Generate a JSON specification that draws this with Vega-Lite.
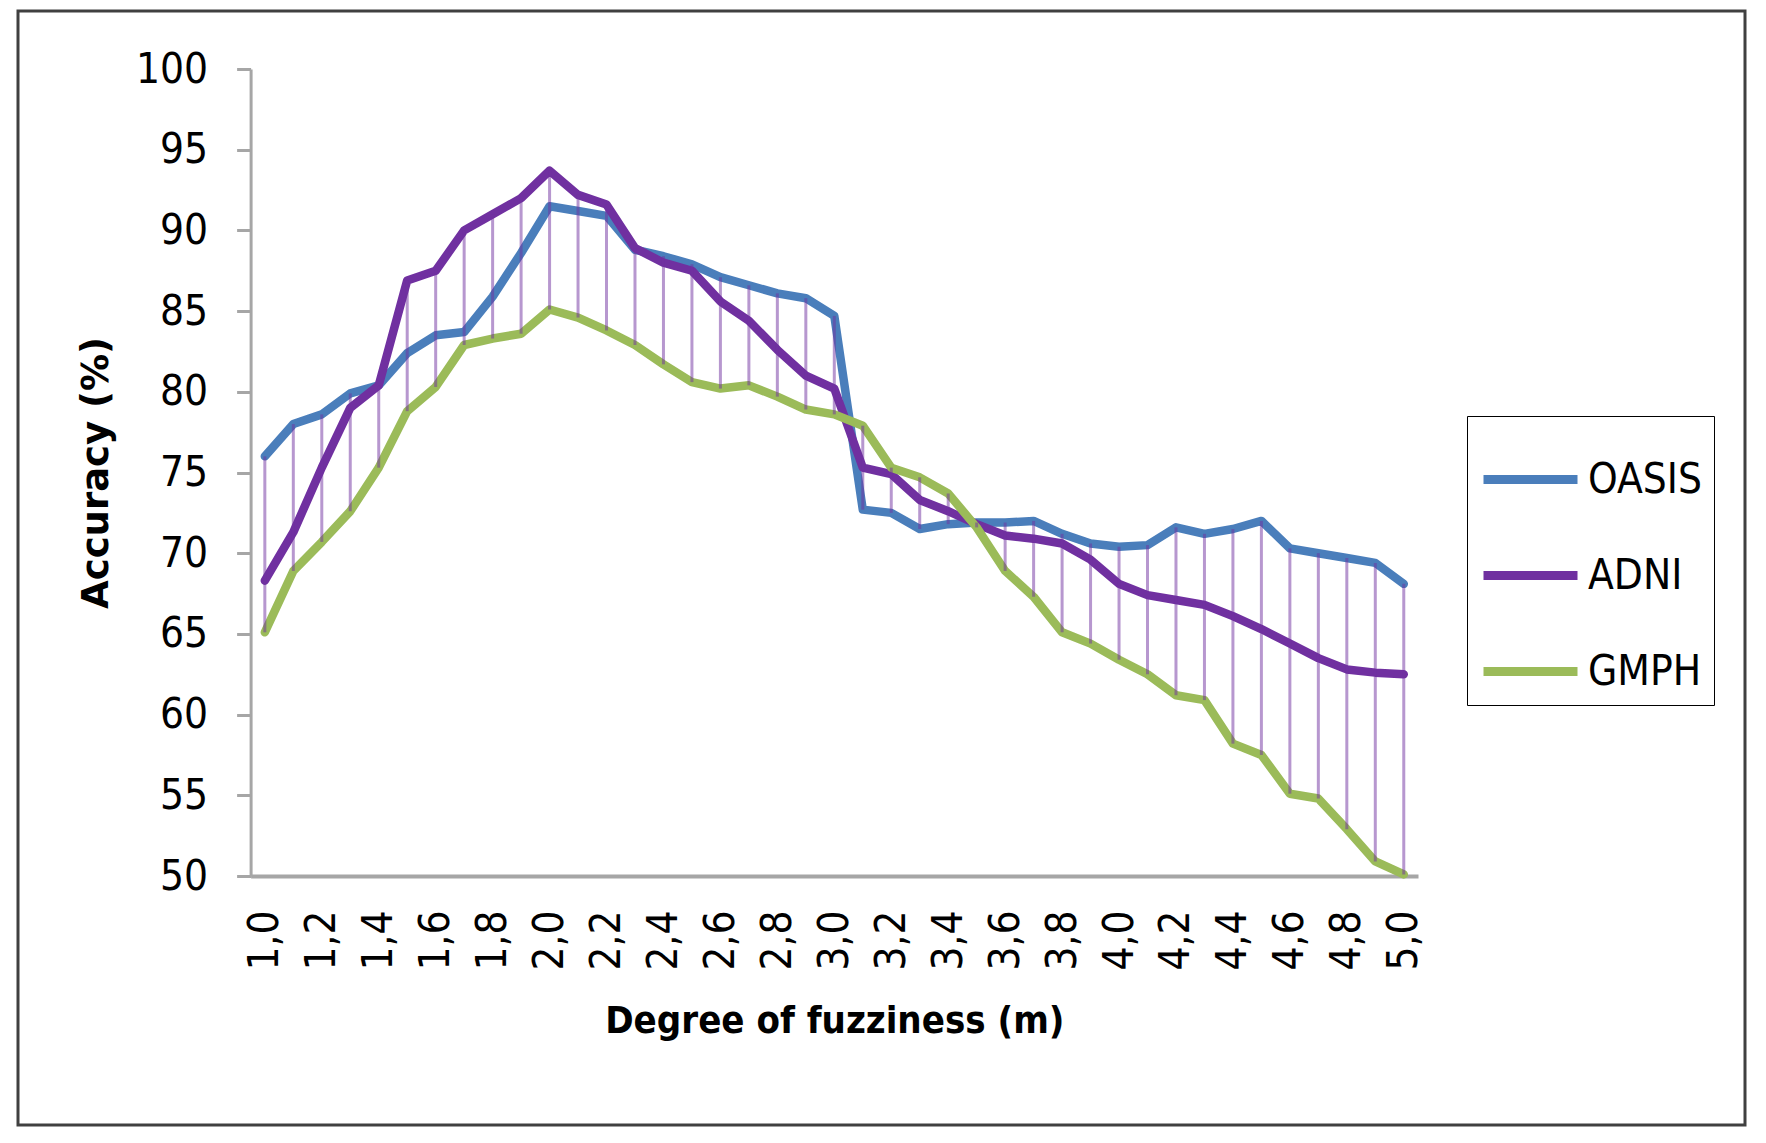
{
  "$schema": "https://vega.github.io/schema/vega-lite/v6.json",
  "width": 1727,
  "height": 1114,
  "autosize": {"type": "none"},
  "padding": {"left": 18, "top": 11, "right": 21, "bottom": 18},
  "background": "white",
  "config": {
    "view": {"stroke": "#404040", "strokeWidth": 3},
    "font": "DejaVu Sans Condensed, Roboto Condensed, Roboto"
  },
  "data": {
    "values": [
      {"m": 1.0, "OASIS": 76.0, "ADNI": 68.3, "GMPH": 65.1},
      {"m": 1.1, "OASIS": 78.0, "ADNI": 71.3, "GMPH": 68.9},
      {"m": 1.2, "OASIS": 78.6, "ADNI": 75.3, "GMPH": 70.7},
      {"m": 1.3, "OASIS": 79.9, "ADNI": 79.0, "GMPH": 72.6},
      {"m": 1.4, "OASIS": 80.4, "ADNI": 80.4, "GMPH": 75.3},
      {"m": 1.5, "OASIS": 82.4, "ADNI": 86.9, "GMPH": 78.8},
      {"m": 1.6, "OASIS": 83.5, "ADNI": 87.5, "GMPH": 80.3},
      {"m": 1.7, "OASIS": 83.7, "ADNI": 90.0, "GMPH": 82.9},
      {"m": 1.8, "OASIS": 85.9, "ADNI": 91.0, "GMPH": 83.3},
      {"m": 1.9, "OASIS": 88.6, "ADNI": 92.0, "GMPH": 83.6},
      {"m": 2.0, "OASIS": 91.5, "ADNI": 93.7, "GMPH": 85.1},
      {"m": 2.1, "OASIS": 91.2, "ADNI": 92.2, "GMPH": 84.6},
      {"m": 2.2, "OASIS": 90.9, "ADNI": 91.6, "GMPH": 83.8},
      {"m": 2.3, "OASIS": 88.8, "ADNI": 88.9, "GMPH": 82.9},
      {"m": 2.4, "OASIS": 88.4, "ADNI": 88.0, "GMPH": 81.7},
      {"m": 2.5, "OASIS": 87.9, "ADNI": 87.5, "GMPH": 80.6},
      {"m": 2.6, "OASIS": 87.1, "ADNI": 85.6, "GMPH": 80.2},
      {"m": 2.7, "OASIS": 86.6, "ADNI": 84.4, "GMPH": 80.4},
      {"m": 2.8, "OASIS": 86.1, "ADNI": 82.6, "GMPH": 79.7},
      {"m": 2.9, "OASIS": 85.8, "ADNI": 81.0, "GMPH": 78.9},
      {"m": 3.0, "OASIS": 84.7, "ADNI": 80.2, "GMPH": 78.6},
      {"m": 3.1, "OASIS": 72.7, "ADNI": 75.3, "GMPH": 77.9},
      {"m": 3.2, "OASIS": 72.5, "ADNI": 74.9, "GMPH": 75.3},
      {"m": 3.3, "OASIS": 71.5, "ADNI": 73.3, "GMPH": 74.7},
      {"m": 3.4, "OASIS": 71.8, "ADNI": 72.6, "GMPH": 73.7},
      {"m": 3.5, "OASIS": 71.9, "ADNI": 71.8, "GMPH": 71.6},
      {"m": 3.6, "OASIS": 71.9, "ADNI": 71.1, "GMPH": 68.9},
      {"m": 3.7, "OASIS": 72.0, "ADNI": 70.9, "GMPH": 67.3},
      {"m": 3.8, "OASIS": 71.2, "ADNI": 70.6, "GMPH": 65.1},
      {"m": 3.9, "OASIS": 70.6, "ADNI": 69.6, "GMPH": 64.4},
      {"m": 4.0, "OASIS": 70.4, "ADNI": 68.1, "GMPH": 63.4},
      {"m": 4.1, "OASIS": 70.5, "ADNI": 67.4, "GMPH": 62.5},
      {"m": 4.2, "OASIS": 71.6, "ADNI": 67.1, "GMPH": 61.2},
      {"m": 4.3, "OASIS": 71.2, "ADNI": 66.8, "GMPH": 60.9},
      {"m": 4.4, "OASIS": 71.5, "ADNI": 66.1, "GMPH": 58.2},
      {"m": 4.5, "OASIS": 72.0, "ADNI": 65.3, "GMPH": 57.5},
      {"m": 4.6, "OASIS": 70.3, "ADNI": 64.4, "GMPH": 55.1},
      {"m": 4.7, "OASIS": 70.0, "ADNI": 63.5, "GMPH": 54.8},
      {"m": 4.8, "OASIS": 69.7, "ADNI": 62.8, "GMPH": 52.9},
      {"m": 4.9, "OASIS": 69.4, "ADNI": 62.6, "GMPH": 50.9},
      {"m": 5.0, "OASIS": 68.1, "ADNI": 62.5, "GMPH": 50.1}
    ]
  },
  "layer": [
    {
      "transform": [{"fold": ["OASIS", "ADNI", "GMPH"], "as": ["series", "accuracy"]}],
      "mark": {"type": "line", "strokeWidth": 8.5, "strokeJoin": "round", "strokeCap": "round"},
      "encoding": {
        "x": {
          "field": "m",
          "type": "quantitative",
          "scale": {"domain": [0.95, 5.05], "range": [232.6, 1400], "nice": false, "zero": false},
          "axis": {
            "orient": "bottom",
            "offset": -249,
            "values": [1.0, 1.2, 1.4, 1.6, 1.8, 2.0, 2.2, 2.4, 2.6, 2.8, 3.0, 3.2, 3.4, 3.6, 3.8, 4.0, 4.2, 4.4, 4.6, 4.8, 5.0],
            "labelExpr": "replace(format(datum.value, '.1f'), '.', ',')",
            "labelAngle": 270,
            "labelFontSize": 42,
            "labelColor": "black",
            "labelPadding": 34,
            "labelFlush": false,
            "labelOverlap": false,
            "ticks": false,
            "tickSize": 0,
            "grid": false,
            "domainColor": "#a6a6a6",
            "domainWidth": 4,
            "title": "Degree of fuzziness (m)",
            "titleFont": "DejaVu Sans Condensed, Roboto Condensed, Roboto",
            "titleFontWeight": "bold",
            "titleFontSize": 38,
            "titleColor": "black",
            "titlePadding": 32
          }
        },
        "y": {
          "field": "accuracy",
          "type": "quantitative",
          "scale": {"domain": [50, 100], "range": [865, 58], "nice": false, "zero": false},
          "axis": {
            "offset": -232.6,
            "values": [50, 55, 60, 65, 70, 75, 80, 85, 90, 95, 100],
            "tickSize": 14,
            "tickWidth": 3,
            "tickColor": "#a6a6a6",
            "domainColor": "#a6a6a6",
            "domainWidth": 3,
            "grid": false,
            "labelFontSize": 42,
            "labelColor": "black",
            "labelPadding": 29,
            "labelFlush": false,
            "title": "Accuracy (%)",
            "titleFont": "DejaVu Sans",
            "titleFontWeight": "bold",
            "titleFontSize": 37,
            "titleColor": "black",
            "titlePadding": 20
          }
        },
        "color": {
          "field": "series",
          "type": "nominal",
          "sort": ["OASIS", "ADNI", "GMPH"],
          "scale": {"domain": ["OASIS", "ADNI", "GMPH"], "range": ["#4a7ebb", "#7030a0", "#9bbb59"]},
          "legend": {
            "orient": "none",
            "legendX": 1449,
            "legendY": 405,
            "title": null,
            "symbolType": "stroke",
            "symbolSize": 8836,
            "symbolStrokeWidth": 9,
            "labelFontSize": 42,
            "labelColor": "black",
            "labelOffset": 6,
            "strokeColor": "black",
            "fillColor": "white",
            "padding": 12,
            "rowPadding": 23
          }
        }
      }
    },
    {
      "transform": [
        {"fold": ["OASIS", "ADNI", "GMPH"], "as": ["series", "accuracy"]},
        {"aggregate": [{"op": "min", "field": "accuracy", "as": "lo"}, {"op": "max", "field": "accuracy", "as": "hi"}], "groupby": ["m"]}
      ],
      "mark": {"type": "rule", "color": "#7030a0", "opacity": 0.5, "strokeWidth": 3},
      "encoding": {
        "x": {"field": "m", "type": "quantitative"},
        "y": {"field": "lo", "type": "quantitative"},
        "y2": {"field": "hi"}
      }
    }
  ]
}
